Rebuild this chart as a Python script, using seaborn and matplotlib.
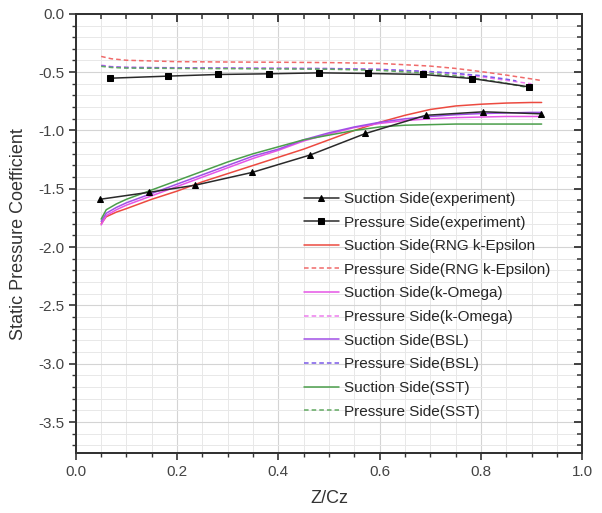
import matplotlib
matplotlib.use("Agg")
import matplotlib.pyplot as plt
from matplotlib.ticker import MultipleLocator
import seaborn as sns

# experiment
x_exp_ss = [0.048, 0.145, 0.235, 0.348, 0.463, 0.572, 0.691, 0.805, 0.918]
cp_exp_ss = [-1.59, -1.53, -1.47, -1.36, -1.21, -1.026, -0.87, -0.84, -0.857]
x_exp_ps = [0.067, 0.182, 0.28, 0.382, 0.481, 0.577, 0.686, 0.783, 0.895]
cp_exp_ps = [-0.552, -0.534, -0.52, -0.514, -0.506, -0.511, -0.52, -0.555, -0.626]

# CFD suction side
x_ss = [0.05, 0.06, 0.08, 0.1, 0.15, 0.2, 0.25, 0.3, 0.35, 0.4, 0.45,
        0.5, 0.55, 0.6, 0.65, 0.7, 0.75, 0.8, 0.85, 0.9, 0.92]
cp_rng_ss = [-1.80, -1.74, -1.70, -1.67, -1.59, -1.52, -1.44, -1.37, -1.30, -1.23, -1.16,
             -1.08, -1.00, -0.93, -0.87, -0.82, -0.79, -0.775, -0.765, -0.76, -0.76]
cp_kw_ss = [-1.81, -1.73, -1.68, -1.64, -1.56, -1.48, -1.40, -1.32, -1.24, -1.17, -1.09,
            -1.03, -0.975, -0.94, -0.915, -0.90, -0.89, -0.885, -0.88, -0.88, -0.88]
cp_bsl_ss = [-1.78, -1.71, -1.66, -1.62, -1.54, -1.46, -1.38, -1.30, -1.22, -1.16, -1.08,
             -1.02, -0.97, -0.93, -0.90, -0.88, -0.865, -0.855, -0.85, -0.845, -0.845]
cp_sst_ss = [-1.76, -1.68, -1.63, -1.59, -1.51, -1.43, -1.35, -1.27, -1.20, -1.14, -1.08,
             -1.04, -1.00, -0.97, -0.955, -0.95, -0.945, -0.945, -0.945, -0.945, -0.945]

# CFD pressure side
x_rng_ps = [0.05, 0.07, 0.1, 0.2, 0.3, 0.4, 0.5, 0.6, 0.7, 0.75, 0.8, 0.85, 0.9, 0.92]
cp_rng_ps = [-0.365, -0.385, -0.398, -0.41, -0.413, -0.415, -0.418, -0.425, -0.448,
             -0.468, -0.495, -0.525, -0.558, -0.572]
x_kw_ps = [0.05, 0.07, 0.1, 0.2, 0.3, 0.4, 0.5, 0.6, 0.7, 0.75, 0.8, 0.85, 0.9]
cp_kw_ps = [-0.44, -0.452, -0.458, -0.462, -0.464, -0.466, -0.468, -0.475, -0.497,
            -0.515, -0.54, -0.57, -0.60]
x_bsl_ps = [0.05, 0.07, 0.1, 0.2, 0.3, 0.4, 0.5, 0.6, 0.7, 0.75, 0.8, 0.85, 0.87]
cp_bsl_ps = [-0.445, -0.455, -0.46, -0.464, -0.466, -0.468, -0.47, -0.477, -0.495,
             -0.51, -0.53, -0.56, -0.575]
x_sst_ps = [0.05, 0.07, 0.1, 0.2, 0.3, 0.4, 0.5, 0.6, 0.7, 0.75, 0.8, 0.85, 0.89]
cp_sst_ps = [-0.45, -0.46, -0.465, -0.468, -0.47, -0.472, -0.475, -0.485, -0.51,
             -0.53, -0.56, -0.595, -0.63]

y_ticks = [0.0, -0.5, -1.0, -1.5, -2.0, -2.5, -3.0, -3.5]
x_ticks = [0.0, 0.2, 0.4, 0.6, 0.8, 1.0]

sns.set_style("ticks")
plt.rcParams["font.family"] = ["Liberation Sans", "DejaVu Sans"]

fig = plt.figure(figsize=(6.02, 5.13), dpi=100)
ax = fig.add_axes([0.126, 0.116, 0.841, 0.857])

# draw order: CFD first, experiment on top
series = [
    (x_ss, cp_rng_ss, "Suction Side(RNG k-Epsilon", "#ec4a40", "-", None),
    (x_rng_ps, cp_rng_ps, "Pressure Side(RNG k-Epsilon)", "#f06a6a", (0, (3, 2)), None),
    (x_ss, cp_kw_ss, "Suction Side(k-Omega)", "#e655e6", "-", None),
    (x_kw_ps, cp_kw_ps, "Pressure Side(k-Omega)", "#ee7cee", (0, (3, 2)), None),
    (x_ss, cp_bsl_ss, "Suction Side(BSL)", "#a050e6", "-", None),
    (x_bsl_ps, cp_bsl_ps, "Pressure Side(BSL)", "#7a5ae8", (0, (3, 2)), None),
    (x_ss, cp_sst_ss, "Suction Side(SST)", "#4b9e4b", "-", None),
    (x_sst_ps, cp_sst_ps, "Pressure Side(SST)", "#62aa62", (0, (3, 2)), None),
    (x_exp_ss, cp_exp_ss, "Suction Side(experiment)", "#2a2a2a", "-", "^"),
    (x_exp_ps, cp_exp_ps, "Pressure Side(experiment)", "#2a2a2a", "-", "s"),
]
for xs, ys, lab, col, ls, mk in series:
    sns.lineplot(x=xs, y=ys, ax=ax, color=col, linestyle=ls, linewidth=1.1,
                 marker=mk, markersize=5 if mk else 0, markeredgecolor="black",
                 markerfacecolor="black", label=lab, sort=False)

ax.set_xlim(0, 1.0)
ax.set_ylim(-3.77, 0)
ax.set_xticks(x_ticks)
ax.set_yticks(y_ticks)
ax.set_xticklabels([f"{v:.1f}" for v in x_ticks])
ax.set_yticklabels([f"{v:.1f}" for v in y_ticks])
ax.xaxis.set_minor_locator(MultipleLocator(0.05))
ax.yaxis.set_minor_locator(MultipleLocator(0.1))
ax.grid(True, which="major", color="#d4d4d4", linewidth=0.8)
ax.grid(True, which="minor", color="#e8e8e8", linewidth=0.7)
ax.set_axisbelow(True)
for sp in ax.spines.values():
    sp.set_color("#333333")
    sp.set_linewidth(1.3)
ax.tick_params(which="major", direction="out", length=5, width=1.2, color="#333333",
               labelsize=11, labelcolor="#444444")
ax.tick_params(which="minor", direction="out", length=3, width=1.0, color="#333333")

# inward ticks on top and right via twin axes
top = ax.twiny()
top.set_xlim(ax.get_xlim())
top.set_xticks(x_ticks)
top.xaxis.set_minor_locator(MultipleLocator(0.05))
top.tick_params(axis="x", which="major", direction="in", length=6, width=1.3,
                color="#333333", labeltop=False, top=True, bottom=False)
top.tick_params(axis="x", which="minor", direction="in", length=3.5, width=1.1,
                color="#333333", top=True, bottom=False)
top.xaxis.grid(False, which="both")
right = ax.twinx()
right.set_ylim(ax.get_ylim())
right.set_yticks(y_ticks)
right.yaxis.set_minor_locator(MultipleLocator(0.1))
right.tick_params(axis="y", which="major", direction="in", length=6, width=1.3,
                  color="#333333", labelright=False, right=True, left=False)
right.tick_params(axis="y", which="minor", direction="in", length=3.5, width=1.1,
                  color="#333333", right=True, left=False)
right.yaxis.grid(False, which="both")
for sec in (top, right):
    sec.patch.set_visible(False)
    for sp in sec.spines.values():
        sp.set_color("#333333")
        sp.set_linewidth(1.3)

ax.set_xlabel("Z/Cz", fontsize=13, color="#333333", labelpad=8)
ax.set_ylabel("Static Pressure Coefficient", fontsize=13, color="#333333", labelpad=8)

handles, labels = ax.get_legend_handles_labels()
order = [8, 9, 0, 1, 2, 3, 4, 5, 6, 7]
ax.legend([handles[i] for i in order], [labels[i] for i in order],
          loc="upper left", bbox_to_anchor=(0.45, 0.595), frameon=False,
          fontsize=11, labelspacing=0.63, handlelength=2.3, handletextpad=0.35,
          borderpad=0, borderaxespad=0)

fig.savefig("out.png", dpi=100)
